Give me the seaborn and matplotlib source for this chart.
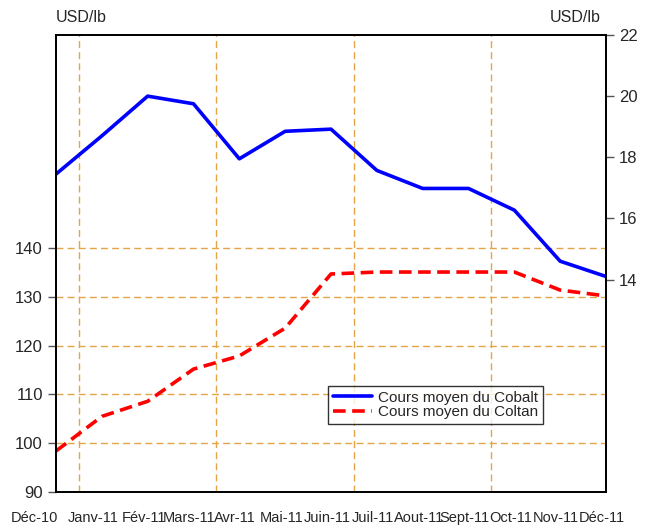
import matplotlib
matplotlib.use("Agg")
import matplotlib.pyplot as plt
import matplotlib.transforms as mtransforms
from matplotlib import font_manager
import seaborn as sns
import pandas as pd

months = ["Déc-10", "Janv-11", "Fév-11", "Mars-11", "Avr-11", "Mai-11", "Juin-11",
          "Juil-11", "Aout-11", "Sept-11", "Oct-11", "Nov-11", "Déc-11"]
cobalt = [17.45, 18.7, 20.0, 19.75, 17.95, 18.85, 18.92, 17.57, 16.98, 16.98, 16.27, 14.6, 14.1]
coltan = [98.4, 105.5, 108.6, 115.2, 117.9, 123.6, 134.7, 135.1, 135.1, 135.1, 135.1, 131.4, 130.2]
left_ticks = [90, 100, 110, 120, 130, 140]
right_ticks = [14, 16, 18, 20, 22]
quarter_lines = [0.5, 3.5, 6.5, 9.5]
label_cobalt = "Cours moyen du Cobalt"
label_coltan = "Cours moyen du Coltan"

df = pd.DataFrame({"idx": list(range(len(months))), "cobalt": cobalt, "coltan": coltan})

sns.set_style("white")
plt.rcParams["font.family"] = ["Liberation Sans", "DejaVu Sans"]

names = {f.name for f in font_manager.fontManager.ttflist}
narrow = "Liberation Sans Narrow" if "Liberation Sans Narrow" in names else None
if narrow:
    nfam = [narrow, "Liberation Sans", "DejaVu Sans"]
    xsize, lsize = 12, 12.5
else:
    nfam = ["Liberation Sans", "DejaVu Sans"]
    xsize, lsize = 10.5, 11

fig = plt.figure(figsize=(6.58, 5.27), dpi=100)
ax = fig.add_axes([56/658, 1-492/527, 550/658, 457/527])
ax2 = ax.twinx()

grid_c = "#E3A547"
for v in left_ticks[1:]:
    ax.axhline(v, color=grid_c, lw=1.0, ls=(0, (5, 3)), zorder=0)
for v in quarter_lines:
    ax.axvline(v, color=grid_c, lw=1.0, ls=(0, (5, 3)), zorder=0)

sns.lineplot(data=df, x="idx", y="coltan", ax=ax, color="#FF0000", lw=2.6,
             linestyle=(0, (3.5, 1.8)), label=label_coltan, legend=False)
sns.lineplot(data=df, x="idx", y="cobalt", ax=ax2, color="#0000FF", lw=2.6,
             label=label_cobalt, legend=False)

ax.set_xlim(0, 12)
ax.set_ylim(90, 183.7)
ax2.set_ylim(7.05, 22)
ax.set_yticks(left_ticks)
ax2.set_yticks(right_ticks)
ax.set_xticks(list(range(len(months))))
ax.set_xticklabels(months, family=nfam, fontsize=xsize)
for a in (ax, ax2):
    a.set_xlabel("")
    a.set_ylabel("")
    for s in a.spines.values():
        s.set_color("black")
        s.set_linewidth(1.3)

ax.tick_params(axis="y", length=5.5, width=1, color="#555555", pad=4, labelsize=12, left=True)
ax2.tick_params(axis="y", length=5.5, width=1, color="#555555", pad=4, labelsize=12, right=True)
ax.tick_params(axis="x", length=0, pad=14)

offsets = [-22, -9] + [-4] * (len(months) - 2)
for lab, dx in zip(ax.get_xticklabels(), offsets):
    lab.set_transform(lab.get_transform() + mtransforms.ScaledTranslation(dx/100, 0, fig.dpi_scale_trans))

fig.text(56/658, 1-18/527, "USD/lb", fontsize=11.5, ha="left", va="center")
fig.text(601/658, 1-18/527, "USD/lb", fontsize=11.5, ha="right", va="center")

h1, l1 = ax2.get_legend_handles_labels()
h2, l2 = ax.get_legend_handles_labels()
leg = fig.legend(h1 + h2, l1 + l2, loc="lower left",
                 bbox_to_anchor=(328/658, 1-424/527), bbox_transform=fig.transFigure,
                 prop={"family": nfam, "size": lsize}, frameon=True, fancybox=False, borderaxespad=0,
                 handlelength=2.6, handletextpad=0.4, borderpad=0.3, labelspacing=0.05)
leg.get_frame().set_edgecolor("black")
leg.get_frame().set_linewidth(1.0)

fig.savefig("out.png", dpi=100)
